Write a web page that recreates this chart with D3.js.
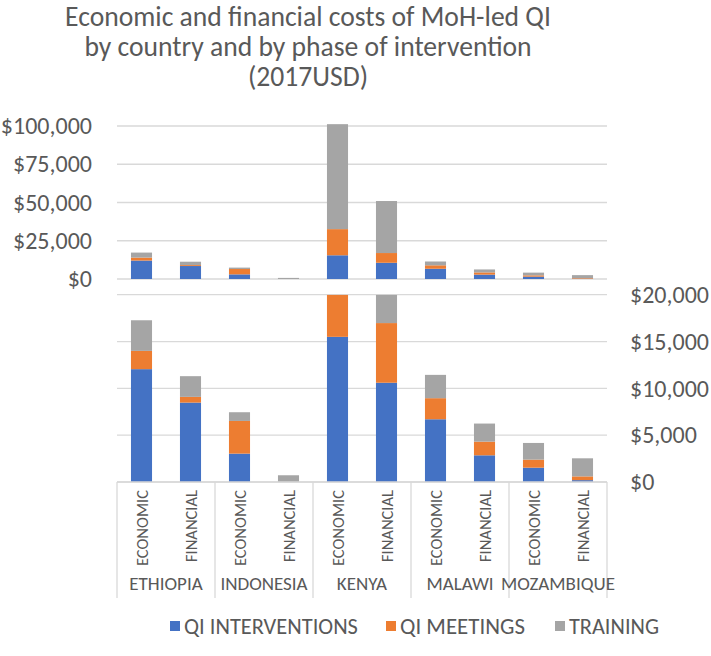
<!DOCTYPE html>
<html><head><meta charset="utf-8">
<script src="https://cdn.jsdelivr.net/npm/d3@7/dist/d3.min.js"></script>
<style>body{margin:0;background:#fff}svg{display:block}text{font-family:Carlito,Calibri,Lato,sans-serif}</style>
</head><body>
<script>
const countries = ["ETHIOPIA","INDONESIA","KENYA","MALAWI","MOZAMBIQUE"];
const phases = ["ECONOMIC","FINANCIAL"];
const seriesNames = ["QI INTERVENTIONS","QI MEETINGS","TRAINING"];
const qiInterventions = [12050, 8480, 3030, 0, 15500, 10600, 6700, 2850, 1530, 200];
const qiMeetings      = [1950, 610, 3490, 0, 17100, 6370, 2250, 1460, 860, 400];
const training        = [3270, 2210, 930, 720, 68600, 34000, 2490, 1930, 1780, 1930];
const topTicks = [0, 25000, 50000, 75000, 100000];
const bottomTicks = [0, 5000, 10000, 15000, 20000];
const titleLines = ["Economic and financial costs of MoH-led QI","by country and by phase of intervention","(2017USD)"];
const colors = ["#4472C4","#ED7D31","#A5A5A5"];

const W = 711, H = 656;
const svg = d3.select("body").append("svg").attr("width", W).attr("height", H);
const txt = "#595959", grid = "#d9d9d9";

const cats = [];
countries.forEach(c => phases.forEach(p => cats.push(c + "|" + p)));
const rows = cats.map((k, i) => ({key: k, "QI INTERVENTIONS": qiInterventions[i], "QI MEETINGS": qiMeetings[i], "TRAINING": training[i]}));
const stacked = d3.stack().keys(seriesNames)(rows);

const x = d3.scaleBand().domain(cats).range([117, 607]).paddingInner(0.57).paddingOuter(0.285);
const xc = d3.scaleBand().domain(countries).range([117, 607]);
const yTop = d3.scaleLinear().domain([0, 100000]).range([279, 126]);
const yBot = d3.scaleLinear().domain([0, 20000]).range([482, 294.7]);
const fmt = v => "$" + d3.format(",")(v);

// fit a text element to a target width
function fit(sel, target) {
  sel.each(function() {
    const w = this.getComputedTextLength();
    const fs = parseFloat(this.getAttribute("font-size"));
    if (w > 0) this.setAttribute("font-size", (fs * target / w).toFixed(2));
  });
}

// Title
const tl = svg.append("g").selectAll("text").data(titleLines).join("text")
  .attr("x", 308).attr("y", (d, i) => 26 + i * 30)
  .attr("text-anchor", "middle").attr("fill", txt).attr("font-size", 24).text(d => d);
fit(tl.filter((d, i) => i === 0), 486);
const tfs = tl.filter((d, i) => i === 0).attr("font-size");
tl.attr("font-size", tfs);

// gridlines
svg.append("g").selectAll("line").data(topTicks).join("line")
  .attr("x1", 117).attr("x2", 607).attr("y1", d => yTop(d)).attr("y2", d => yTop(d))
  .attr("stroke", grid).attr("stroke-width", 1.3);
svg.append("g").selectAll("line").data(bottomTicks).join("line")
  .attr("x1", 117).attr("x2", 607).attr("y1", d => yBot(d)).attr("y2", d => yBot(d))
  .attr("stroke", grid).attr("stroke-width", 1.3);

// Left axis labels (top panel)
const axL = d3.axisLeft(yTop).tickValues(topTicks).tickFormat(fmt).tickSize(0).tickPadding(0);
const gL = svg.append("g").attr("transform", "translate(92,0)").call(axL);
gL.select(".domain").remove();
gL.selectAll("text").attr("fill", txt).attr("font-size", 24).attr("font-family", null);

// Right axis labels (bottom panel)
const axR = d3.axisRight(yBot).tickValues(bottomTicks).tickFormat(fmt).tickSize(0).tickPadding(0);
const gR = svg.append("g").attr("transform", "translate(630,0)").call(axR);
gR.select(".domain").remove();
gR.selectAll("text").attr("fill", txt).attr("font-size", 24).attr("font-family", null);

// Top bars
svg.append("g").selectAll("g").data(stacked).join("g").attr("fill", (d, i) => colors[i])
  .selectAll("rect").data(d => d).join("rect")
  .attr("x", d => x(d.data.key)).attr("width", x.bandwidth())
  .attr("y", d => yTop(d[1])).attr("height", d => yTop(d[0]) - yTop(d[1]));

// Bottom bars (clipped at $20,000)
svg.append("clipPath").attr("id", "clipB").append("rect")
  .attr("x", 0).attr("width", W).attr("y", yBot(20000)).attr("height", yBot(0) - yBot(20000));
svg.append("g").attr("clip-path", "url(#clipB)").selectAll("g").data(stacked).join("g").attr("fill", (d, i) => colors[i])
  .selectAll("rect").data(d => d).join("rect")
  .attr("x", d => x(d.data.key)).attr("width", x.bandwidth())
  .attr("y", d => yBot(Math.min(d[1], 20000)))
  .attr("height", d => Math.max(0, yBot(Math.max(d[0], 0)) - yBot(Math.min(d[1], 20000))));

// Category axis
svg.append("line").attr("x1", 117).attr("x2", 607).attr("y1", 482).attr("y2", 482).attr("stroke", grid).attr("stroke-width", 1.3);
const seps = countries.map(c => xc(c)).concat([607]);
svg.append("g").selectAll("line").data(seps).join("line")
  .attr("x1", d => d).attr("x2", d => d).attr("y1", 482).attr("y2", 598)
  .attr("stroke", grid).attr("stroke-width", 1.3);

svg.append("g").selectAll("text").data(cats).join("text")
  .attr("transform", d => `translate(${x(d) + x.bandwidth() / 2},490) rotate(-90)`)
  .attr("text-anchor", "end").attr("dominant-baseline", "central")
  .attr("fill", txt).attr("font-size", 16.5).text(d => d.split("|")[1]);

svg.append("g").selectAll("text").data(countries).join("text")
  .attr("x", d => xc(d) + xc.bandwidth() / 2).attr("y", 590)
  .attr("text-anchor", "middle").attr("fill", txt).attr("font-size", 19).text(d => d);

// Legend
const legX = [170, 386, 555];
const legW = [174, 125, 90];
const leg = svg.append("g").selectAll("g").data(seriesNames).join("g")
  .attr("transform", (d, i) => `translate(${legX[i]},0)`);
leg.append("rect").attr("x", 0).attr("y", 621).attr("width", 10).attr("height", 10).attr("fill", (d, i) => colors[i]);
const lt = leg.append("text").attr("x", 14).attr("y", 634).attr("fill", txt).attr("font-size", 20).text(d => d);
lt.each(function(d, i) { fit(d3.select(this), legW[i]); });
</script>
</body></html>
